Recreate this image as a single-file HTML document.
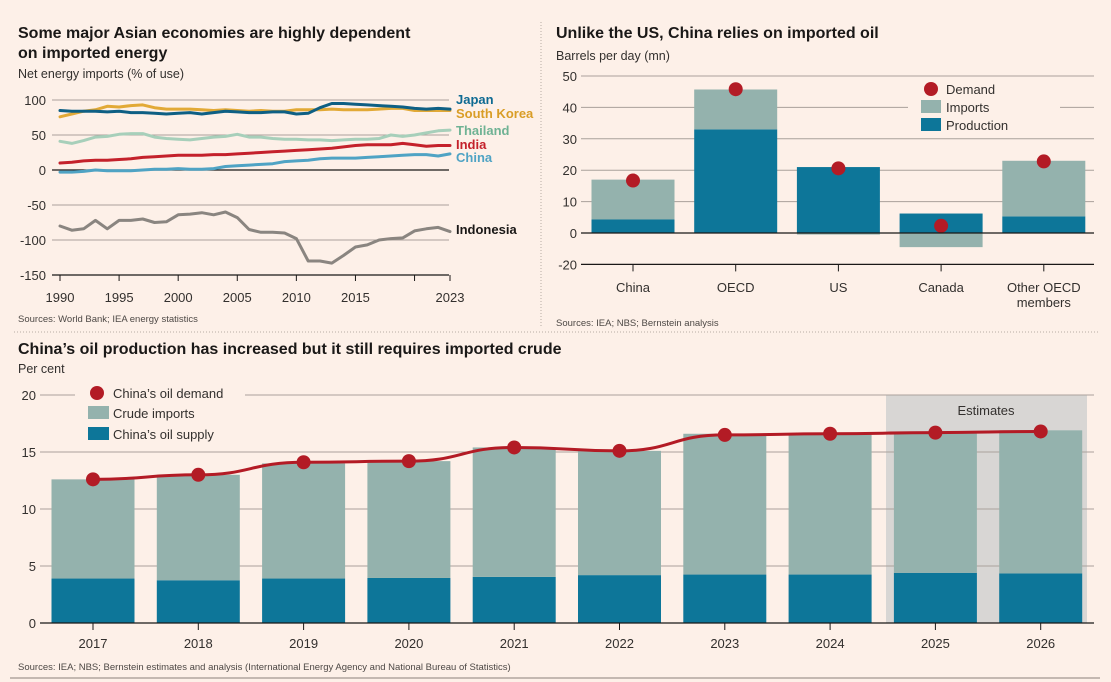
<!DOCTYPE html>
<html><head><meta charset="utf-8">
<style>
body{margin:0;background:#fdf0e8;font-family:"Liberation Sans",sans-serif;}
svg{display:block}
text{font-family:"Liberation Sans",sans-serif;fill:#33302e}
.t{font-weight:bold;font-size:16px;fill:#1a1817}
.s{font-size:12.5px}
.src{font-size:9.5px;fill:#4d4845}
.tk{font-size:13px;fill:#33302e}
</style></head>
<body>
<svg id="c" width="1111" height="682">
<rect width="1111" height="682" fill="#fdf0e8"/>
<text class="t" x="18" y="38">Some major Asian economies are highly dependent</text>
<text class="t" x="18" y="58">on imported energy</text>
<text class="s" x="18" y="78">Net energy imports (% of use)</text>
<text class="t" x="556" y="38">Unlike the US, China relies on imported oil</text>
<text class="s" x="556" y="60">Barrels per day (mn)</text>
<text class="src" x="18" y="322">Sources: World Bank; IEA energy statistics</text>
<text class="src" x="556" y="326">Sources: IEA; NBS; Bernstein analysis</text>
<line x1="541" y1="22" x2="541" y2="328" stroke="#b8aca3" stroke-dasharray="1,2"/>
<line x1="14" y1="332" x2="1100" y2="332" stroke="#b8aca3" stroke-dasharray="1,2"/>
<text class="t" x="18" y="354">China’s oil production has increased but it still requires imported crude</text>
<text class="s" x="18" y="373">Per cent</text>
<text class="src" x="18" y="670">Sources: IEA; NBS; Bernstein estimates and analysis (International Energy Agency and National Bureau of Statistics)</text>
<line x1="10" y1="678" x2="1100" y2="678" stroke="#8a807a"/>
<g id="g1"></g><g id="g2"></g><g id="g3"></g>
</svg>
<script>
// ---- Chart 1 data ----
const years1 = [1990,1991,1992,1993,1994,1995,1996,1997,1998,1999,2000,2001,2002,2003,2004,2005,2006,2007,2008,2009,2010,2011,2012,2013,2014,2015,2016,2017,2018,2019,2020,2021,2022,2023];
const japan = [85,84,84,84,83,84,82,82,81,80,81,82,80,82,84,83,82,82,83,83,80,81,89,95,95,94,93,92,91,90,88,87,88,87];
const korea = [76,80,84,86,91,90,92,93,89,87,87,87,86,85,86,85,84,85,84,84,86,86,86,87,86,86,86,87,88,88,85,85,85,85];
const thailand = [41,38,42,47,48,51,52,52,47,45,44,43,45,47,48,51,47,47,45,44,44,43,43,42,43,44,44,45,50,48,50,53,56,57];
const india = [10,11,13,14,14,15,16,18,19,20,21,21,21,22,22,23,24,25,26,27,28,29,30,31,33,35,36,36,36,38,36,34,35,35];
const china = [-3,-3,-2,0,-1,-1,-1,0,1,1,2,1,1,2,5,6,7,8,9,12,13,14,16,17,17,17,18,19,20,21,22,22,20,23];
const indonesia = [-80,-86,-84,-72,-84,-72,-72,-70,-75,-74,-64,-63,-61,-64,-60,-68,-85,-89,-89,-90,-98,-130,-130,-133,-122,-110,-107,-100,-98,-97,-87,-84,-82,-88];
const ticks1 = [100,50,0,-50,-100,-150];
const xticks1 = [1990,1995,2000,2005,2010,2015,2020,2023];
const xlabels1 = ["1990","1995","2000","2005","2010","2015","","2023"];
// ---- Chart 2 data ----
const cats2 = ["China","OECD","US","Canada","Other OECD|members"];
const prod2 = [4.3,33,21,6.2,5.3];
const imports2 = [12.7,12.7,-0.5,-4.5,17.7];
const demand2 = [16.7,45.8,20.6,2.3,22.8];
const ticks2 = [50,40,30,20,10,0];
// ---- Chart 3 data ----
const years3 = ["2017","2018","2019","2020","2021","2022","2023","2024","2025","2026"];
const supply3 = [3.9,3.75,3.9,3.95,4.05,4.2,4.25,4.25,4.4,4.35];
const crude3 = [8.7,9.25,10.1,10.25,11.35,10.9,12.35,12.35,12.3,12.55];
const demand3 = [12.6,13.0,14.1,14.2,15.4,15.1,16.5,16.6,16.7,16.8];
const ticks3 = [20,15,10,5,0];

const NS="http://www.w3.org/2000/svg";
function mk(p,t,a,txt){const e=document.createElementNS(NS,t);for(const k in a)e.setAttribute(k,a[k]);if(txt!==undefined)e.textContent=txt;p.appendChild(e);return e;}
const TEAL="#0d7699",GREY="#94b2ad",RED="#b31b25";

// Chart 1
const g1=document.getElementById('g1');
const x1=y=>60+(y-1990)*(390/33);
const y1=v=>170-v*0.7;
ticks1.forEach(v=>{
  const l=mk(g1,'line',{x1:52,x2:449,y1:y1(v),y2:y1(v),stroke:(v===0||v===-150)?'#1a1817':'#aaa19b','stroke-width':(v===0||v===-150)?1.3:1});
  
  
  const t=mk(g1,'text',{x:46,y:y1(v)+5,'text-anchor':'end',class:'tk'},String(v));
  
  
});
xticks1.forEach((yr,i)=>{
  const l=mk(g1,'line',{x1:x1(yr),x2:x1(yr),y1:y1(-150),y2:y1(-150)+6,stroke:'#1a1817'});
  
  
  const t=mk(g1,'text',{x:x1(yr),y:302,'text-anchor':'middle',class:'tk'},xlabels1[i]);
  
  
});
const series1=[[indonesia,'#8a8580','Indonesia',234],[china,'#4fa3c4','China',162],[india,'#c4212b','India',149],[thailand,'#a7cfba','Thailand',135],[korea,'#e2a936','South Korea',118],[japan,'#0e5f84','Japan',104]];
const lblCol={Indonesia:'#1a1817',China:'#4fa3c4',India:'#c4212b',Thailand:'#6fb294',"South Korea":'#d99d26',Japan:'#0e6a92'};
series1.forEach(([d,c,n,ly])=>{
  const p=mk(g1,'polyline',{points:d.map((v,i)=>x1(years1[i])+','+y1(v)).join(' '),fill:'none',stroke:c,'stroke-width':3,'stroke-linejoin':'round','stroke-linecap':'round'});
  
  
  const t=mk(g1,'text',{x:456,y:ly,'font-size':13,'font-weight':'bold',style:'fill:'+lblCol[n]},n);
  
  
});

// Chart 2
const g2=document.getElementById('g2');
const y2=v=>233-v*3.14;
const y2t=v=>v===-20?y2(-10):y2(v);
[50,40,30,20,10,0,-20].forEach(v=>{
  const l=mk(g2,'line',{x1:581,x2:1094,y1:y2t(v),y2:y2t(v),stroke:v===-20?'#1a1817':'#aaa19b','stroke-width':v===-20?1.3:1});
  
  
  const t=mk(g2,'text',{x:577,y:y2t(v)+5,'text-anchor':'end',class:'tk'},String(v));
  
  
});
// legend
{const bg=mk(g2,'rect',{x:908,y:78,width:152,height:58,fill:'#fdf0e8'});


const c=mk(g2,'circle',{cx:931,cy:89,r:7,fill:RED});


const r1=mk(g2,'rect',{x:921,y:100,width:20,height:13,fill:GREY});


const r2=mk(g2,'rect',{x:921,y:118,width:20,height:13,fill:TEAL});


[['Demand',94],['Imports',112],['Production',130]].forEach(([s,yy])=>{const t=mk(g2,'text',{x:946,y:yy,'font-size':13},s);

});}
const xc2=i=>633+i*102.7;
cats2.forEach((c,i)=>{
  const xx=xc2(i)-41.5;
  const p=prod2[i], im=imports2[i];
  const pr=mk(g2,'rect',{x:xx,y:y2(p),width:83,height:y2(0)-y2(p),fill:TEAL});
  
  
  let ir;
  if(im>=0) ir=mk(g2,'rect',{x:xx,y:y2(p+im),width:83,height:y2(p)-y2(p+im),fill:GREY});
  else ir=mk(g2,'rect',{x:xx,y:y2(0),width:83,height:y2(im)-y2(0),fill:GREY});
  
  
  const d=mk(g2,'circle',{cx:xc2(i),cy:y2(demand2[i]),r:7,fill:RED});
  
  
  const tk=mk(g2,'line',{x1:xc2(i),x2:xc2(i),y1:y2t(-20),y2:y2t(-20)+7,stroke:'#1a1817'});
  
  
  c.split('|').forEach((s,j)=>{const t=mk(g2,'text',{x:xc2(i),y:292+j*15,'text-anchor':'middle',class:'tk'},s);
  
  });
});
{const z=mk(g2,'line',{x1:581,x2:1094,y1:y2(0),y2:y2(0),stroke:'#1a1817','stroke-width':1.3});

}

// Chart 3
const g3=document.getElementById('g3');
const y3=v=>623-v*11.4;
const xc3=i=>93+i*105.3;
{const e=mk(g3,'rect',{x:886,y:395,width:201,height:228,fill:'#d8d6d4'});


const et=mk(g3,'text',{x:986,y:415,'text-anchor':'middle','font-size':13},'Estimates');

}
ticks3.forEach(v=>{
  const l=mk(g3,'line',{x1:40,x2:1094,y1:y3(v),y2:y3(v),stroke:'#aaa19b'});
  
  
  const t=mk(g3,'text',{x:36,y:y3(v)+5,'text-anchor':'end',class:'tk'},String(v));
  
  
});
{const bg=mk(g3,'rect',{x:75,y:380,width:170,height:62,fill:'#fdf0e8'});


const c=mk(g3,'circle',{cx:97,cy:393,r:7,fill:RED});


const r1=mk(g3,'rect',{x:88,y:406,width:21,height:13,fill:GREY});


const r2=mk(g3,'rect',{x:88,y:427,width:21,height:13,fill:TEAL});


[["China’s oil demand",398],['Crude imports',418],["China’s oil supply",439]].forEach(([s,yy])=>{const t=mk(g3,'text',{x:113,y:yy,'font-size':13},s);

});}
years3.forEach((yr,i)=>{
  const xx=xc3(i)-41.5;
  const s=mk(g3,'rect',{x:xx,y:y3(supply3[i]),width:83,height:y3(0)-y3(supply3[i]),fill:TEAL});
  
  
  const top=supply3[i]+crude3[i];
  const c=mk(g3,'rect',{x:xx,y:y3(top),width:83,height:y3(supply3[i])-y3(top),fill:GREY});
  
  
  const tk=mk(g3,'line',{x1:xc3(i),x2:xc3(i),y1:623,y2:630,stroke:'#1a1817'});
  
  
  const t=mk(g3,'text',{x:xc3(i),y:648,'text-anchor':'middle',class:'tk'},yr);
  
  
});
{const z=mk(g3,'line',{x1:40,x2:1094,y1:623,y2:623,stroke:'#1a1817','stroke-width':1.3});


let dstr='';
demand3.forEach((v,i)=>{const X=xc3(i),Y=y3(v);if(i===0)dstr='M'+X+','+Y;else{const pX=xc3(i-1),pY=y3(demand3[i-1]),m=(pX+X)/2;dstr+=' C'+m+','+pY+' '+m+','+Y+' '+X+','+Y;}});
const ln=mk(g3,'path',{d:dstr,fill:'none',stroke:RED,'stroke-width':3});

}
demand3.forEach((v,i)=>{
  const d=mk(g3,'circle',{cx:xc3(i),cy:y3(v),r:7,fill:RED});
  
  
});
</script>
</body></html>
